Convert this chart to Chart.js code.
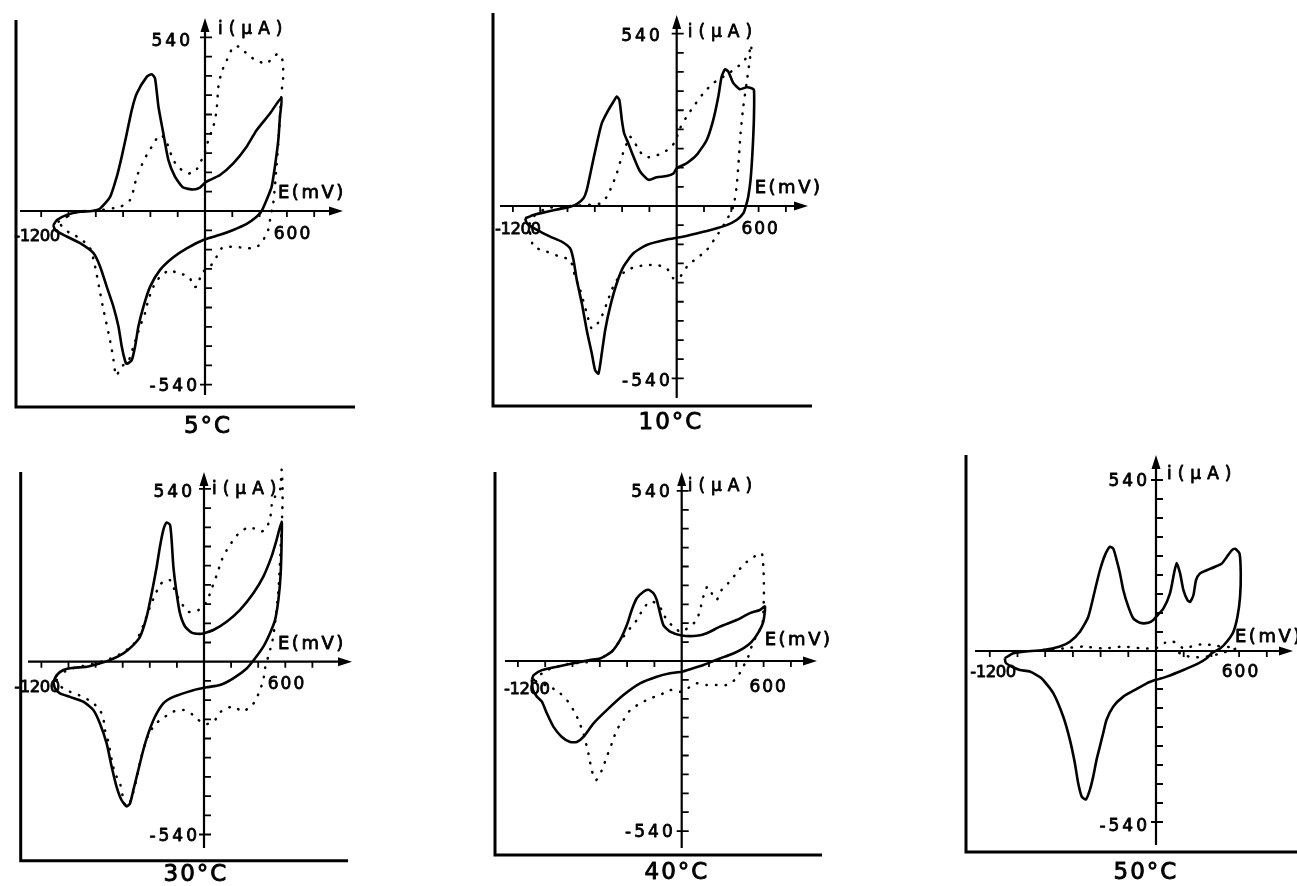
<!DOCTYPE html>
<html>
<head>
<meta charset="utf-8">
<script src="https://cdn.jsdelivr.net/npm/chart.js@4.4.1/dist/chart.umd.min.js"></script>
<style>
  html, body { margin: 0; padding: 0; background: #ffffff; }
  body { width: 1297px; height: 886px; overflow: hidden; position: relative; }
  canvas { position: absolute; }
</style>
</head>
<body>
<canvas id="p1"></canvas>
<canvas id="p2"></canvas>
<canvas id="p3"></canvas>
<canvas id="p4"></canvas>
<canvas id="p5"></canvas>
<script>
// ---------------- DATA ----------------
const temperatures = ['5°C', '10°C', '30°C', '40°C', '50°C'];
const potentialTicks = [-1200, -1000, -800, -600, -400, -200, 200, 400, 600, 800];
const currentTicks = [-540, -480, -420, -360, -300, -240, -180, -120, -60, 60, 120, 180, 240, 300, 360, 420, 480, 540];
const potentialLabelValues = [-1200, 600];
const potentialLabelTexts = ['-1200', '600'];
const currentLabelValues = [540, -540];
const currentLabelTexts = ['540', '-540'];
const currentAxisTitle = 'i(µA)';
const potentialAxisTitle = 'E(mV)';

// [E (mV), i (µA)]
const cv5_solid = [[-1111,-44],[-1085,-28],[-1012,-12],[-915,-2],[-829,0],[-768,8],[-695,44],[-646,107],[-610,169],[-573,241],[-537,313],[-500,365],[-427,417],[-390,425],[-366,412],[-341,324],[-305,241],[-268,158],[-220,107],[-159,73],[-85,67],[-37,73],[0,88],[24,94],[110,112],[207,148],[305,200],[378,251],[476,303],[561,353],[549,293],[537,220],[512,138],[488,75],[451,34],[415,0],[378,-18],[305,-40],[207,-59],[110,-74],[0,-88],[-134,-116],[-232,-144],[-329,-183],[-402,-235],[-451,-297],[-488,-359],[-512,-421],[-537,-464],[-573,-475],[-585,-467],[-610,-421],[-634,-359],[-671,-297],[-720,-235],[-768,-173],[-817,-131],[-915,-100],[-1037,-74],[-1098,-59]];
const cv5_dotted = [[-1073,-33],[-939,-2],[-817,0],[-622,13],[-549,34],[-524,65],[-500,107],[-463,143],[-427,174],[-390,200],[-354,225],[-324,236],[-293,225],[-268,200],[-232,158],[-183,132],[-122,117],[-73,122],[-37,148],[0,184],[24,220],[61,262],[85,313],[98,386],[122,432],[159,468],[207,510],[256,510],[317,484],[378,468],[451,458],[500,479],[537,489],[568,468],[573,417],[561,370],[549,293],[537,210],[524,138],[512,75],[500,24],[480,-18],[463,-59],[427,-90],[378,-113],[317,-116],[256,-113],[183,-111],[122,-116],[85,-142],[37,-173],[-12,-188],[-37,-209],[-61,-235],[-85,-235],[-110,-209],[-146,-199],[-207,-193],[-256,-183],[-329,-204],[-378,-235],[-415,-276],[-439,-317],[-476,-359],[-524,-421],[-561,-467],[-610,-483],[-651,-512],[-671,-462],[-683,-431],[-707,-379],[-744,-307],[-768,-255],[-805,-173],[-841,-116],[-915,-85],[-988,-69],[-1037,-54]];

const cv10_solid = [[-1110,-39],[-1049,-28],[-951,-18],[-854,-9],[-780,-2],[-732,6],[-683,24],[-659,50],[-622,123],[-585,196],[-549,259],[-500,301],[-463,327],[-439,343],[-420,332],[-402,270],[-385,228],[-354,196],[-317,155],[-268,108],[-207,82],[-146,90],[-73,94],[-24,102],[0,118],[73,134],[146,160],[220,207],[268,270],[305,343],[329,405],[354,428],[378,421],[415,385],[463,366],[512,372],[549,369],[566,364],[566,280],[556,176],[541,82],[524,29],[507,0],[488,-23],[439,-44],[366,-60],[268,-73],[146,-86],[24,-98],[-73,-105],[-220,-122],[-317,-148],[-390,-190],[-439,-242],[-488,-316],[-524,-389],[-549,-462],[-573,-525],[-598,-514],[-622,-462],[-659,-389],[-695,-305],[-732,-232],[-756,-169],[-780,-133],[-841,-112],[-927,-96],[-1024,-75],[-1098,-54]];
const cv10_dotted = [[-1073,-86],[-1049,-127],[-951,-143],[-854,-159],[-780,-169],[-744,-222],[-707,-263],[-659,-336],[-622,-384],[-561,-357],[-512,-305],[-476,-263],[-439,-232],[-366,-201],[-293,-190],[-220,-185],[-146,-185],[-73,-195],[-24,-227],[24,-222],[49,-206],[85,-185],[146,-164],[220,-138],[305,-86],[366,-44],[415,-2],[439,61],[451,123],[468,228],[488,311],[512,385],[532,447],[549,505],[524,473],[476,447],[415,426],[341,405],[268,385],[195,353],[122,311],[73,280],[24,243],[-12,202],[-49,181],[-110,165],[-171,155],[-232,153],[-268,170],[-305,196],[-341,217],[-366,196],[-402,155],[-439,102],[-476,61],[-512,29],[-561,8],[-659,3],[-780,0],[-951,-7],[-1049,-33],[-1085,-65]];

const cv30_solid = [[-1112,-63],[-1087,-42],[-1038,-26],[-964,-19],[-866,-16],[-768,-5],[-694,5],[-595,26],[-522,52],[-472,78],[-423,141],[-386,214],[-349,297],[-325,360],[-300,412],[-276,435],[-251,428],[-239,381],[-226,297],[-202,214],[-177,151],[-140,110],[-91,91],[-30,87],[0,89],[69,99],[167,125],[266,162],[364,214],[438,266],[499,329],[536,381],[573,438],[573,381],[566,276],[549,193],[524,130],[487,89],[438,47],[376,10],[315,-21],[216,-52],[118,-73],[20,-80],[-79,-89],[-226,-110],[-300,-130],[-362,-172],[-411,-224],[-448,-276],[-485,-339],[-522,-402],[-546,-443],[-571,-452],[-608,-433],[-645,-391],[-681,-329],[-718,-256],[-768,-193],[-817,-151],[-891,-125],[-989,-110],[-1063,-99],[-1100,-83]];
const cv30_dotted = [[-1090,-45],[-1000,-25],[-900,-14],[-800,-5],[-700,8],[-600,28],[-520,55],[-470,90],[-430,135],[-398,172],[-362,208],[-325,240],[-288,255],[-251,255],[-201,208],[-165,182],[-116,156],[-42,161],[20,188],[57,229],[94,271],[131,318],[168,349],[216,380],[266,406],[315,417],[364,417],[413,406],[450,412],[487,443],[500,490],[524,516],[561,537],[573,600],[580,540],[578,470],[570,400],[562,320],[552,240],[538,170],[524,120],[510,75],[490,40],[475,18],[450,-21],[438,-57],[408,-94],[376,-125],[327,-146],[278,-156],[229,-141],[155,-146],[118,-159],[81,-182],[20,-195],[-42,-182],[-103,-159],[-153,-151],[-227,-156],[-288,-172],[-349,-191],[-399,-219],[-435,-255],[-470,-310],[-500,-370],[-530,-420],[-560,-450],[-583,-448],[-600,-420],[-620,-380],[-657,-349],[-681,-307],[-706,-250],[-731,-213],[-743,-177],[-770,-150],[-830,-125],[-920,-105],[-1010,-90],[-1080,-70]];

const cv40_solid = [[-1098,-60],[-1085,-45],[-1024,-29],[-915,-18],[-793,-7],[-671,3],[-598,8],[-512,30],[-451,67],[-402,114],[-366,162],[-329,199],[-280,220],[-244,226],[-207,215],[-183,194],[-159,152],[-134,114],[-85,93],[0,81],[110,80],[183,88],[280,109],[402,130],[500,152],[573,162],[610,173],[598,125],[561,90],[512,61],[451,40],[378,24],[280,8],[232,0],[159,-13],[85,-23],[0,-34],[-85,-39],[-183,-50],[-305,-71],[-427,-108],[-549,-156],[-646,-198],[-720,-241],[-768,-257],[-817,-257],[-878,-241],[-939,-209],[-988,-166],[-1024,-129],[-1061,-113],[-1090,-92]];
const cv40_dotted = [[-1085,-60],[-988,-29],[-841,-10],[-671,-2],[-524,24],[-476,51],[-427,77],[-378,104],[-329,130],[-280,167],[-232,189],[-183,183],[-146,162],[-110,130],[-61,109],[-12,93],[24,99],[61,109],[110,130],[134,162],[159,205],[188,236],[220,215],[256,194],[293,226],[341,247],[402,279],[451,305],[512,326],[585,342],[598,300],[602,247],[602,205],[593,125],[561,88],[524,61],[488,14],[451,-18],[402,-55],[329,-76],[256,-76],[183,-76],[110,-71],[24,-92],[-12,-98],[-85,-92],[-159,-108],[-232,-119],[-305,-135],[-378,-156],[-427,-188],[-476,-219],[-512,-262],[-549,-304],[-585,-347],[-627,-378],[-659,-347],[-683,-294],[-720,-230],[-756,-188],[-793,-156],[-841,-124],[-890,-103],[-963,-82],[-1037,-71]];

const cv50_solid = [[-1092,-23],[-1031,-7],[-959,-2],[-815,3],[-694,14],[-622,29],[-549,61],[-489,108],[-441,192],[-405,255],[-369,302],[-333,329],[-308,323],[-284,287],[-260,245],[-236,192],[-200,140],[-164,103],[-116,89],[-55,89],[-19,98],[0,108],[53,134],[101,182],[130,245],[149,278],[174,245],[198,192],[227,161],[246,155],[270,176],[289,224],[318,245],[366,255],[427,266],[475,276],[511,297],[547,318],[571,323],[603,308],[612,245],[607,171],[588,108],[559,61],[511,29],[463,8],[402,-7],[366,-23],[306,-39],[198,-60],[77,-81],[0,-91],[-67,-102],[-152,-123],[-236,-144],[-308,-175],[-357,-217],[-381,-259],[-405,-301],[-429,-343],[-453,-396],[-477,-438],[-506,-469],[-537,-459],[-562,-417],[-586,-354],[-622,-280],[-670,-207],[-742,-133],[-827,-86],[-911,-65],[-983,-60],[-1043,-49],[-1085,-37]];
const cv50_dotted = [[-815,3],[-670,8],[-525,14],[-381,8],[-236,14],[-92,8],[5,10],[65,26],[113,31],[161,22],[198,8],[270,16],[342,22],[439,16],[535,12],[578,8],[487,-5],[390,-16],[294,-20],[222,-16],[174,-7],[113,1]];

// ---------------- LAYOUT (page pixels) ----------------
const layouts = [
  { id:'p1', box:[0,0,440,440], ox:205, oy:211, pxPer200mV:27.3, pxPer60uA:19.3,
    frame:[16,20,407,355], yAxis:[18,395], xAxis:[20,343],
    lab540:[-15,-169], labm540:[-8,176], labI:[13,-181], labE:[73,-18], labm1200:[-168,26], lab600:[87,24], temp:[207,427] },
  { id:'p2', box:[460,0,440,440], ox:676.7, oy:206, pxPer200mV:27.3, pxPer60uA:19.15,
    frame:[493,13,406,812], yAxis:[15,398], xAxis:[500,808],
    lab540:[-17,-169], labm540:[-7,176], labI:[11,-173], labE:[78,-18], labm1200:[-159,24], lab600:[83,24], temp:[670,423] },
  { id:'p3', box:[0,440,440,446], ox:204, oy:661.7, pxPer200mV:27.1, pxPer60uA:19.2,
    frame:[20.7,472,860.7,348], yAxis:[472,848], xAxis:[28,352],
    lab540:[-12,-169], labm540:[-7,175], labI:[8,-172], labE:[74,-17], labm1200:[-167,26], lab600:[82,23], temp:[195,875] },
  { id:'p4', box:[460,440,440,446], ox:681.7, oy:661, pxPer200mV:27.3, pxPer60uA:18.9,
    frame:[495,472,855,822], yAxis:[472,848], xAxis:[505,817],
    lab540:[-12,-168], labm540:[-9,172], labI:[6,-174], labE:[83,-21], labm1200:[-155,29], lab600:[86,27], temp:[676,873] },
  { id:'p5', box:[930,420,367,466], ox:1156, oy:651, pxPer200mV:27.7, pxPer60uA:19.0,
    frame:[966,455,852,1297], yAxis:[455,845], xAxis:[975,1293],
    lab540:[-9,-169], labm540:[-9,176], labI:[11,-176], labE:[79,-14], labm1200:[-163,22], lab600:[84,22], temp:[1145,873] }
];
const solidSeries = [cv5_solid, cv10_solid, cv30_solid, cv40_solid, cv50_solid];
const dottedSeries = [cv5_dotted, cv10_dotted, cv30_dotted, cv40_dotted, cv50_dotted];
const dottedClosed = [true, true, true, true, false];

const FONT = '"DejaVu Sans", "Liberation Sans", sans-serif';

function setSpacing(ctx, px) { if ('letterSpacing' in ctx) ctx.letterSpacing = px + 'px'; }
function boldText(ctx, text, x, y, w) {
  ctx.lineWidth = w;
  ctx.lineJoin = 'round';
  ctx.strokeText(text, x, y);
  ctx.fillText(text, x, y);
}

const cvAxesPlugin = {
  id: 'cvAxes',
  beforeDatasetsDraw(chart, args, opts) {
    const L = opts.layout, T = opts.temp;
    const ctx = chart.ctx;
    const xs = chart.scales.x, ys = chart.scales.y;
    const cl = L.box[0], ct = L.box[1];
    const ox = xs.getPixelForValue(0), oy = ys.getPixelForValue(0);
    ctx.save();
    ctx.strokeStyle = '#000'; ctx.fillStyle = '#000';
    ctx.lineCap = 'butt';
    // frame (left and bottom)
    ctx.lineWidth = 3;
    ctx.beginPath();
    ctx.moveTo(L.frame[0] - cl, L.frame[1] - ct);
    ctx.lineTo(L.frame[0] - cl, L.frame[2] - ct);
    ctx.lineTo(L.frame[3] - cl, L.frame[2] - ct);
    ctx.stroke();
    // axes
    ctx.lineWidth = 2.2;
    ctx.beginPath();
    ctx.moveTo(L.xAxis[0] - cl, oy); ctx.lineTo(L.xAxis[1] - cl - 8, oy);
    ctx.moveTo(ox, L.yAxis[1] - ct); ctx.lineTo(ox, L.yAxis[0] - ct + 8);
    ctx.stroke();
    // arrows
    ctx.beginPath();
    const xe = L.xAxis[1] - cl;
    ctx.moveTo(xe, oy); ctx.lineTo(xe - 14, oy - 4.5); ctx.lineTo(xe - 14, oy + 4.5); ctx.closePath();
    const ye = L.yAxis[0] - ct;
    ctx.moveTo(ox, ye); ctx.lineTo(ox - 4.5, ye + 14); ctx.lineTo(ox + 4.5, ye + 14); ctx.closePath();
    ctx.fill();
    // ticks
    ctx.lineWidth = 1.8;
    ctx.beginPath();
    potentialTicks.forEach(v => { const p = xs.getPixelForValue(v); ctx.moveTo(p, oy); ctx.lineTo(p, oy + 6); });
    currentTicks.forEach(v => {
      const p = ys.getPixelForValue(v);
      ctx.moveTo(ox, p); ctx.lineTo(ox + 7, p);
      if (Math.abs(v) === 540) { ctx.moveTo(ox - 5, p); ctx.lineTo(ox, p); }
    });
    ctx.stroke();
    // labels
    ctx.textBaseline = 'middle';
    ctx.font = '17px ' + FONT;
    setSpacing(ctx, 3);
    ctx.textAlign = 'right';
    boldText(ctx, currentLabelTexts[0], ox + L.lab540[0] + 3, oy + L.lab540[1], 0.8);
    boldText(ctx, currentLabelTexts[1], ox + L.labm540[0] + 3, oy + L.labm540[1], 0.8);
    ctx.textAlign = 'left';
    setSpacing(ctx, 6);
    boldText(ctx, currentAxisTitle, ox + L.labI[0], oy + L.labI[1], 0.8);
    setSpacing(ctx, 2.5);
    ctx.font = '18px ' + FONT;
    boldText(ctx, potentialAxisTitle, ox + L.labE[0], oy + L.labE[1], 0.8);
    ctx.textAlign = 'center';
    setSpacing(ctx, -0.5);
    ctx.font = '16.5px ' + FONT;
    boldText(ctx, potentialLabelTexts[0], ox + L.labm1200[0], oy + L.labm1200[1], 0.8);
    setSpacing(ctx, 2);
    ctx.font = '17px ' + FONT;
    boldText(ctx, potentialLabelTexts[1], ox + L.lab600[0] + 1, oy + L.lab600[1], 0.8);
    // temperature
    ctx.font = '23px ' + FONT;
    setSpacing(ctx, 2);
    boldText(ctx, T, L.temp[0] - cl + 1, L.temp[1] - ct, 0.9);
    ctx.restore();
  }
};

function toPoints(arr, close) {
  const pts = arr.map(p => ({ x: p[0], y: p[1] }));
  if (close) pts.push({ x: arr[0][0], y: arr[0][1] });
  return pts;
}

layouts.forEach((L, k) => {
  const cv = document.getElementById(L.id);
  const [left, top, w, h] = L.box;
  cv.width = w; cv.height = h;
  cv.style.left = left + 'px'; cv.style.top = top + 'px';
  cv.style.width = w + 'px'; cv.style.height = h + 'px';
  const kx = L.pxPer200mV / 200, ky = L.pxPer60uA / 60;
  const xmin = (left - L.ox) / kx, xmax = (left + w - L.ox) / kx;
  const ymax = (L.oy - top) / ky, ymin = (L.oy - (top + h)) / ky;
  new Chart(cv.getContext('2d'), {
    type: 'scatter',
    data: {
      datasets: [
        { data: toPoints(solidSeries[k], true), showLine: true, borderColor: '#000', borderWidth: 2.6,
          pointRadius: 0, tension: 0.2, fill: false, clip: false, borderJoinStyle: 'round' },
        { data: toPoints(dottedSeries[k], dottedClosed[k]), showLine: true, borderColor: '#000', borderWidth: 2.5,
          borderDash: [0.5, 9], borderCapStyle: 'round', pointRadius: 0, tension: 0.2, fill: false, clip: false }
      ]
    },
    options: {
      responsive: false, animation: false, devicePixelRatio: 1,
      layout: { padding: 0 },
      scales: {
        x: { type: 'linear', display: false, min: xmin, max: xmax },
        y: { type: 'linear', display: false, min: ymin, max: ymax }
      },
      plugins: { legend: { display: false }, tooltip: { enabled: false }, cvAxes: { layout: L, temp: temperatures[k] } },
      events: []
    },
    plugins: [cvAxesPlugin]
  });
});
</script>
</body>
</html>
